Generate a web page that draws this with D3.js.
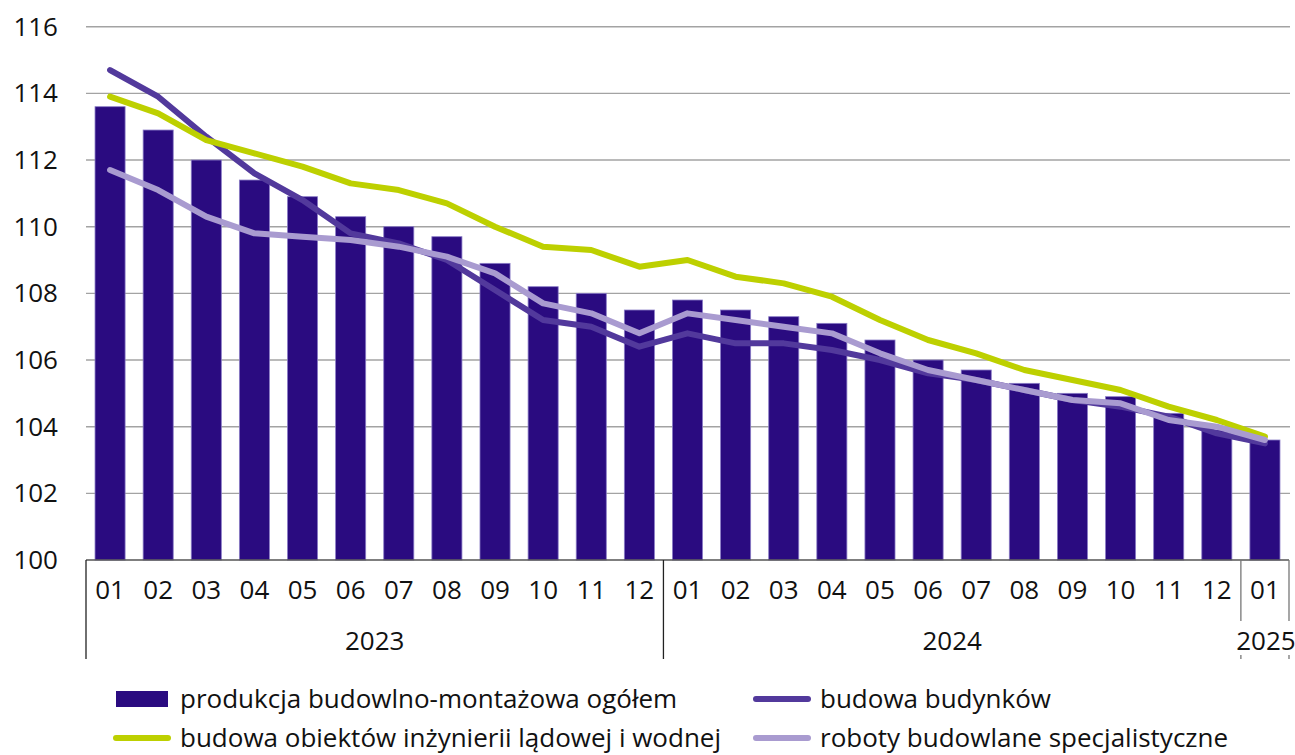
<!DOCTYPE html>
<html>
<head>
<meta charset="utf-8">
<script src="https://cdn.jsdelivr.net/npm/d3@7"></script>
<style>
  body { margin: 0; background: #fff; }
  svg text { font-family: "Open Sans", "Noto Sans", sans-serif; fill: #111; }
</style>
</head>
<body>
<svg id="chart" width="1295" height="755"></svg>
<script>
// categories
var months = ["01","02","03","04","05","06","07","08","09","10","11","12",
              "01","02","03","04","05","06","07","08","09","10","11","12",
              "01"];
var years = ["2023", "2024", "2025"];
var yearCounts = [12, 12, 1];
var yTicks = [100, 102, 104, 106, 108, 110, 112, 114, 116];

// series
var ogolem = [113.6,112.9,112.0,111.4,110.9,110.3,110.0,109.7,108.9,108.2,108.0,107.5,
              107.8,107.5,107.3,107.1,106.6,106.0,105.7,105.3,105.0,104.9,104.4,103.9,
              103.6];
var budynki = [114.7,113.9,112.7,111.6,110.8,109.8,109.5,109.0,108.1,107.2,107.0,106.4,
               106.8,106.5,106.5,106.3,106.0,105.6,105.4,105.1,104.8,104.6,104.3,103.8,
               103.5];
var inzynieria = [113.9,113.4,112.6,112.2,111.8,111.3,111.1,110.7,110.0,109.4,109.3,108.8,
                  109.0,108.5,108.3,107.9,107.2,106.6,106.2,105.7,105.4,105.1,104.6,104.2,
                  103.7];
var specjalistyczne = [111.7,111.1,110.3,109.8,109.7,109.6,109.4,109.1,108.6,107.7,107.4,106.8,
                       107.4,107.2,107.0,106.8,106.2,105.7,105.4,105.1,104.8,104.7,104.2,104.0,
                       103.6];

var legendLabels = ["produkcja budowlno-montażowa ogółem", "budowa budynków",
                    "budowa obiektów inżynierii lądowej i wodnej", "roboty budowlane specjalistyczne"];

var barColor = "#2a0b80", barEdge = "#8a7cc6";
var lineColors = ["#52399c", "#bdd000", "#a99bd0"];

var svg = d3.select("#chart");

var x = d3.scaleBand()
	.domain(d3.range(months.length))
	.range([86, 1289])
	.paddingInner(0.375)
	.paddingOuter(0.1875);

var y = d3.scaleLinear().domain([100, 116]).range([560, 26.7]);

// gridlines
svg.append("g").selectAll("line")
	.data(yTicks.filter(function(d) { return d > 100; }))
	.enter().append("line")
	.attr("x1", 86).attr("x2", 1290)
	.attr("y1", function(d) { return y(d); })
	.attr("y2", function(d) { return y(d); })
	.style("stroke", "#a3a3a3")
	.style("stroke-width", 1.4);

// y labels
svg.append("g").selectAll("text")
	.data(yTicks)
	.enter().append("text")
	.attr("x", 58)
	.attr("y", function(d) { return y(d) + 9; })
	.attr("text-anchor", "end")
	.style("font-size", "26px")
	.text(function(d) { return d; });

// bars
svg.append("g").selectAll("rect")
	.data(ogolem)
	.enter().append("rect")
	.attr("x", function(d, i) { return x(i); })
	.attr("width", x.bandwidth())
	.attr("y", function(d) { return y(d); })
	.attr("height", function(d) { return y(100) - y(d); })
	.style("fill", barColor)
	.style("stroke", barEdge)
	.style("stroke-width", 0.8);

// lines
var line = d3.line()
	.x(function(d, i) { return x(i) + x.bandwidth() / 2; })
	.y(function(d) { return y(d); });

[budynki, inzynieria, specjalistyczne].forEach(function(s, k) {
	svg.append("path")
		.datum(s)
		.attr("d", line)
		.style("fill", "none")
		.style("stroke", lineColors[k])
		.style("stroke-width", 6)
		.style("stroke-linejoin", "round")
		.style("stroke-linecap", "round");
});

// x axis line
svg.append("line")
	.attr("x1", 86).attr("x2", 1289)
	.attr("y1", 560).attr("y2", 560)
	.style("stroke", "#555").style("stroke-width", 1.5);

// month labels
svg.append("g").selectAll("text")
	.data(months)
	.enter().append("text")
	.attr("x", function(d, i) { return x(i) + x.bandwidth() / 2; })
	.attr("y", 599)
	.attr("text-anchor", "middle")
	.style("font-size", "26px")
	.text(function(d) { return d; });

// year groups
var step = x.step();
var start = 86, seps = [86];
var yearPos = [];
yearCounts.forEach(function(n, k) {
	var end = start + n * step;
	yearPos.push((start + end) / 2);
	seps.push(end);
	start = end;
});

svg.append("g").selectAll("line")
	.data(seps)
	.enter().append("line")
	.attr("x1", function(d) { return d; })
	.attr("x2", function(d) { return d; })
	.attr("y1", 560).attr("y2", 659)
	.style("stroke", function(d, i) { return i == 0 || i == 1 ? "#222" : "#777"; })
	.style("stroke-width", 1.3);

// gap behind the narrow 2025 label
svg.append("rect")
	.attr("x", seps[2] - 4).attr("y", 621)
	.attr("width", seps[3] - seps[2] + 10).attr("height", 34)
	.style("fill", "#fff");

svg.append("g").selectAll("text")
	.data(years)
	.enter().append("text")
	.attr("x", function(d, i) { return i == 2 ? yearPos[i] + 1 : yearPos[i]; })
	.attr("y", 650)
	.attr("text-anchor", "middle")
	.style("font-size", "26px")
	.text(function(d) { return d; });

// legend
var leg = svg.append("g");
var legX = [116, 756], legY = [699, 738];

leg.append("rect")
	.attr("x", legX[0]).attr("y", legY[0] - 8)
	.attr("width", 52).attr("height", 16)
	.style("fill", barColor);

[[1, 0], [0, 1], [1, 1]].forEach(function(p, k) {
	leg.append("line")
		.attr("x1", legX[p[0]] + 0).attr("x2", legX[p[0]] + 52)
		.attr("y1", legY[p[1]]).attr("y2", legY[p[1]])
		.style("stroke", lineColors[k])
		.style("stroke-width", 6)
		.style("stroke-linecap", "round");
});

[[0, 0], [1, 0], [0, 1], [1, 1]].forEach(function(p, k) {
	leg.append("text")
		.attr("x", legX[p[0]] + 64)
		.attr("y", legY[p[1]] + 9)
		.style("font-size", "26px")
		.text(legendLabels[k]);
});
</script>
</body>
</html>
